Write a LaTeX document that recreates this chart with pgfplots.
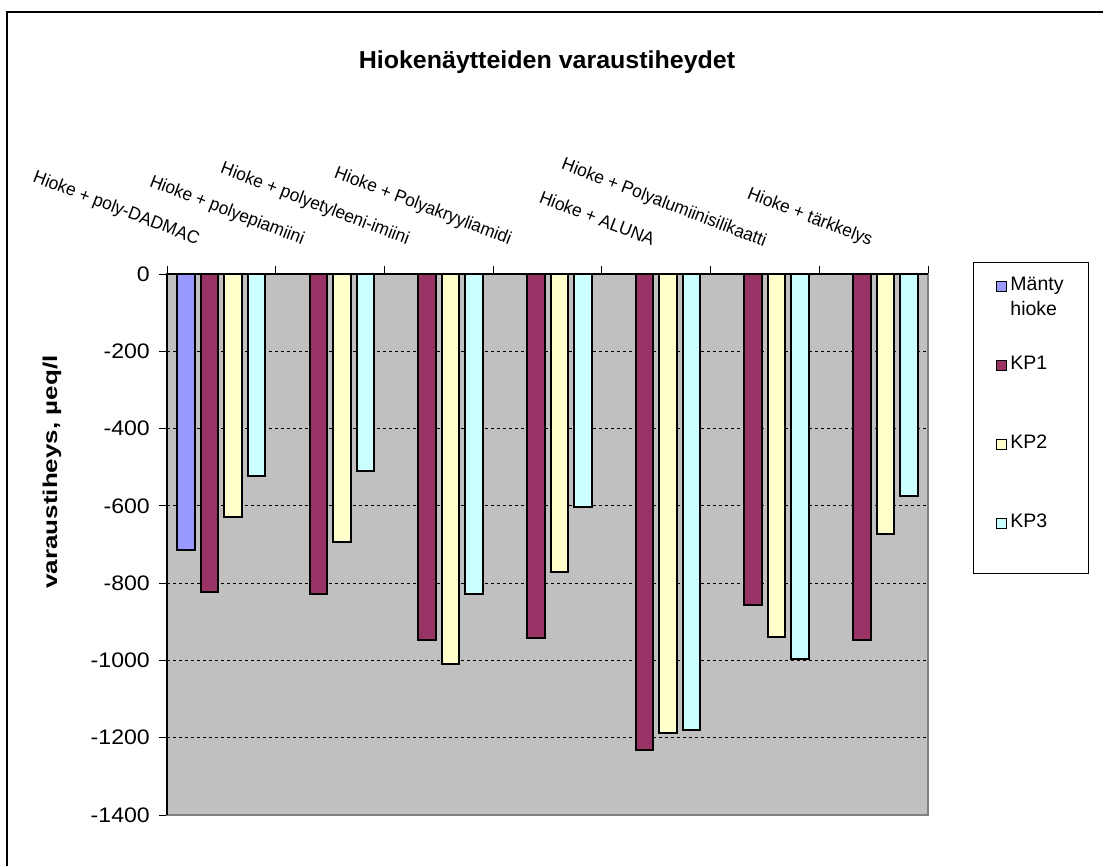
\documentclass[border=0pt]{standalone}
\usepackage{fontspec}
\setmainfont{Liberation Sans}
\usepackage{pgfplots}
\pgfplotsset{compat=1.18}
\definecolor{manty}{RGB}{153,153,255}
\definecolor{kpone}{RGB}{153,51,102}
\definecolor{kptwo}{RGB}{255,255,204}
\definecolor{kpthree}{RGB}{204,255,255}
\definecolor{plotbg}{RGB}{192,192,192}
\definecolor{frameg}{RGB}{128,128,128}
\begin{document}
\begin{tikzpicture}[x=1pt,y=1pt]
\useasboundingbox (0,0) rectangle (1103,-865);
\begin{scope}
\clip (0,0) rectangle (1103,-865);
\draw[line width=1.5pt] (7,-900) -- (7,-12) -- (1150,-12);
\end{scope}
\node[font=\bfseries\fontsize{24.5}{28}\selectfont, anchor=base, xscale=1.02] at (547,-68) {Hiokenäytteiden varaustiheydet};
\node[font=\bfseries\fontsize{20}{24}\selectfont, rotate=90, anchor=base] at (57,-472) {\scalebox{1.3}[1]{varaustiheys, µeq/l}};
\draw[line width=1pt] (973,-262) rectangle (1088,-573);
\begin{axis}[
  at={(167pt,-274pt)}, anchor=north west,
  scale only axis, width=761pt, height=541pt,
  clip=false,
  xmin=0.5, xmax=7.5, ymin=-1400, ymax=0,
  ybar=6pt, bar width=17.5pt,
  axis background/.style={fill=plotbg},
  axis line style={draw=frameg, line width=1.8pt},
  xtick={0.5,1.5,...,7.5}, xticklabels={},
  xtick pos=upper, ytick pos=left,
  tick align=outside, major tick length=8pt,
  tick style={black, line width=0.8pt},
  ytick={-1400,-1200,...,0},
  yticklabels={-1400,-1200,-1000,-800,-600,-400,-200,0},
  yticklabel={\scalebox{1.1}[1]{\pgfmathparse{int(\tick)}\pgfmathresult}},
  yticklabel style={font=\fontsize{21}{25}\selectfont, inner sep=0pt, xshift=-9pt},
  ymajorgrids,
  grid style={black, dashed, line width=0.8pt},
  legend style={at={(1.0894,1)}, anchor=north west, draw=none, fill=none,
    inner sep=0pt, row sep=57pt, column sep=1pt,
    font=\fontsize{19.5}{25}\selectfont,
    nodes={inner sep=2pt, text height=14pt, text depth=4pt, anchor=base west}},
  legend cell align=left,
  legend image code/.code={\draw[#1, line width=1.2pt] (0pt,-1pt) rectangle (10pt,9pt);},
]
\addplot[fill=manty, draw=black, line width=2pt] coordinates {(1,-714)};
\addplot[fill=kpone, draw=black, line width=2pt] coordinates {(1,-824) (2,-828) (3,-947) (4,-942) (5,-1233) (6,-856) (7,-947)};
\addplot[fill=kptwo, draw=black, line width=2pt] coordinates {(1,-628) (2,-694) (3,-1009) (4,-770) (5,-1188) (6,-939) (7,-673)};
\addplot[fill=kpthree, draw=black, line width=2pt] coordinates {(1,-523) (2,-511) (3,-828) (4,-604) (5,-1180) (6,-997) (7,-574)};
\addlegendentry{\smash{\begin{tabular}[t]{@{}l@{}}Mänty\\[0pt]hioke\end{tabular}}}
\addlegendentry{KP1}
\addlegendentry{KP2}
\addlegendentry{KP3}
\draw[black, line width=1.8pt] (axis cs:0.5,-1400) -- (axis cs:0.5,0) -- (axis cs:7.5,0);
\begin{scope}[font=\fontsize{18}{21}\selectfont]
\node[rotate=-21, anchor=base east] at ([yshift=28pt]axis cs:0.804,0) {\scalebox{0.96}[1]{Hioke + poly-DADMAC}};
\node[rotate=-21, anchor=base east] at ([yshift=28pt]axis cs:1.769,0) {\scalebox{0.96}[1]{Hioke + polyepiamiini}};
\node[rotate=-21, anchor=base east] at ([yshift=28pt]axis cs:2.735,0) {\scalebox{0.96}[1]{Hioke + polyetyleeni-imiini}};
\node[rotate=-21, anchor=base east] at ([yshift=28pt]axis cs:3.674,0) {\scalebox{0.96}[1]{Hioke + Polyakryyliamidi}};
\node[rotate=-21, anchor=base east] at ([yshift=27pt]axis cs:4.989,0) {\scalebox{0.96}[1]{Hioke + ALUNA}};
\node[rotate=-21, anchor=base east] at ([yshift=26pt]axis cs:6.019,0) {\scalebox{0.96}[1]{Hioke + Polyalumiinisilikaatti}};
\node[rotate=-21, anchor=base east] at ([yshift=27pt]axis cs:6.994,0) {\scalebox{0.96}[1]{Hioke + tärkkelys}};
\end{scope}
\end{axis}
\end{tikzpicture}
\end{document}
